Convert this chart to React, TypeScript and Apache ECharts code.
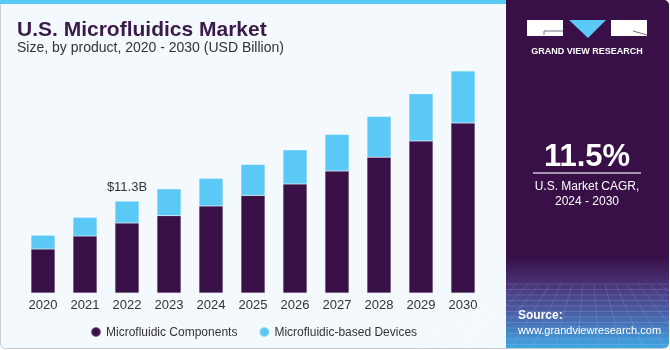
import React, { useEffect, useRef } from 'react';
import * as echarts from 'echarts';

const years = ['2020', '2021', '2022', '2023', '2024', '2025', '2026', '2027', '2028', '2029', '2030'];
const components = [5.4, 7.0, 8.6, 9.5, 10.7, 12.0, 13.4, 15.0, 16.7, 18.7, 20.9];
const devices = [1.7, 2.3, 2.7, 3.3, 3.4, 3.8, 4.2, 4.5, 5.0, 5.8, 6.4];
const seriesNames = ['Microfluidic Components', 'Microfluidic-based Devices'];
const highlightIndex = 2;
const highlightLabel = '$11.3B';
const titleText = 'U.S. Microfluidics Market';
const subtitleText = 'Size, by product, 2020 - 2030 (USD Billion)';
const cagrValue = '11.5%';
const cagrLines = ['U.S. Market CAGR,', '2024 - 2030'];

const PURPLE = '#381047';
const BLUE = '#5bc9f5';
const FONT = '"Liberation Sans", Arial, sans-serif';

export default function App() {
  const ref = useRef<HTMLDivElement>(null);
  useEffect(() => {
    if (!ref.current) return;
    const chart = echarts.init(ref.current, undefined, { renderer: 'svg' });
    const txt = (text: string, x: number, y: number, font: string, fill: string, align = 'left', extra: any = {}) => ({
      type: 'text',
      silent: true,
      style: { text, x, y, font, fill, textAlign: align, textVerticalAlign: 'middle', align, verticalAlign: 'middle' },
      ...extra,
    });
    chart.setOption({
      animation: false,
      backgroundColor: 'transparent',
      textStyle: { fontFamily: FONT },
      grid: { left: 22, right: 186, top: 49, bottom: 57, containLabel: false },
      xAxis: {
        type: 'category',
        data: years,
        axisLine: { show: false },
        axisTick: { show: false },
        axisLabel: { color: '#333333', fontSize: 13, margin: 5, fontFamily: FONT },
      },
      yAxis: { type: 'value', min: 0, max: 30, show: false, splitLine: { show: false } },
      legend: {
        left: 85,
        top: 321,
        icon: 'circle',
        itemWidth: 10,
        itemHeight: 10,
        itemGap: 21,
        textStyle: { color: '#333333', fontSize: 12, fontFamily: FONT },
        data: seriesNames,
      },
      series: [
        {
          name: seriesNames[0],
          type: 'bar',
          stack: 'total',
          barWidth: 24,
          itemStyle: { color: PURPLE, borderColor: 'rgba(255,255,255,0.35)', borderWidth: 0.5 },
          data: components,
        },
        {
          name: seriesNames[1],
          type: 'bar',
          stack: 'total',
          barWidth: 24,
          itemStyle: { color: BLUE, borderColor: 'rgba(255,255,255,0.35)', borderWidth: 0.5 },
          data: devices.map((v, i) =>
            i === highlightIndex
              ? {
                  value: v,
                  label: {
                    show: true,
                    position: 'top',
                    distance: 8,
                    formatter: highlightLabel,
                    color: '#333333',
                    fontSize: 13,
                    fontFamily: FONT,
                  },
                }
              : v
          ),
        },
      ],
      graphic: [
        {
          type: 'rect',
          z: -10,
          silent: true,
          shape: { x: 0.5, y: 0.5, width: 668, height: 348, r: 5 },
          style: { fill: '#f4f9fd', stroke: '#c9cdd2', lineWidth: 1 },
        },
        {
          type: 'rect',
          z: -9,
          silent: true,
          shape: { x: 0, y: 0, width: 506, height: 4 },
          style: { fill: BLUE },
        },
        {
          type: 'rect',
          z: -9,
          silent: true,
          shape: { x: 506, y: 0, width: 163, height: 348, r: [0, 5, 5, 0] },
          style: {
            fill: new echarts.graphic.LinearGradient(0, 0, 0, 1, [
              { offset: 0, color: PURPLE },
              { offset: 0.74, color: PURPLE },
              { offset: 0.82, color: '#4a3478' },
              { offset: 0.9, color: '#4a5fa6' },
              { offset: 1, color: '#3fa6e2' },
            ]),
          },
        },
        // perspective grid texture
        ...Array.from({ length: 12 }, (_, i) => ({
          type: 'line',
          silent: true,
          shape: { x1: 506, y1: 284 + i * 5.5, x2: 669, y2: 284 + i * 5.5 },
          style: { stroke: 'rgba(200,210,255,0.18)', lineWidth: 1 },
        })),
        ...Array.from({ length: 16 }, (_, i) => ({
          type: 'line',
          silent: true,
          shape: { x1: 506 + i * 11, y1: 284, x2: 506 + (i - 7.5) * 22 + 82, y2: 347 },
          style: { stroke: 'rgba(200,210,255,0.16)', lineWidth: 1 },
        })),
        // logo
        { type: 'rect', silent: true, shape: { x: 527, y: 20, width: 36, height: 16 }, style: { fill: '#ffffff' } },
        { type: 'polyline', silent: true, shape: { points: [[563, 31], [544, 31], [544, 35]] }, style: { stroke: '#7a6a88', lineWidth: 1, fill: 'none' } },
        { type: 'polygon', silent: true, shape: { points: [[569, 20], [606, 20], [588, 38]] }, style: { fill: BLUE } },
        { type: 'rect', silent: true, shape: { x: 611, y: 20, width: 36, height: 16 }, style: { fill: '#ffffff' } },
        { type: 'line', silent: true, shape: { x1: 633, y1: 31, x2: 647, y2: 35 }, style: { stroke: '#7a6a88', lineWidth: 1 } },
        txt('GRAND VIEW RESEARCH', 587, 51, `bold 9px ${FONT}`, '#ffffff', 'center'),
        // title
        txt(titleText, 17, 28, `bold 21px ${FONT}`, '#3a1a4a'),
        txt(subtitleText, 17, 47, `14px ${FONT}`, '#333333'),
        // CAGR panel
        txt(cagrValue, 587, 155, `bold 31px ${FONT}`, '#ffffff', 'center'),
        { type: 'line', silent: true, shape: { x1: 533, y1: 173, x2: 641, y2: 173 }, style: { stroke: '#c9bfd2', lineWidth: 1.5 } },
        txt(cagrLines[0], 587, 186, `12px ${FONT}`, '#ffffff', 'center'),
        txt(cagrLines[1], 587, 201, `12px ${FONT}`, '#ffffff', 'center'),
        // source
        txt('Source:', 518, 315, `bold 12px ${FONT}`, '#ffffff'),
        txt('www.grandviewresearch.com', 518, 330, `11px ${FONT}`, '#ffffff'),
      ],
    });
    return () => chart.dispose();
  }, []);
  return <div ref={ref} style={{ position: 'fixed', left: 0, top: 0, width: 670, height: 350 }} />;
}
